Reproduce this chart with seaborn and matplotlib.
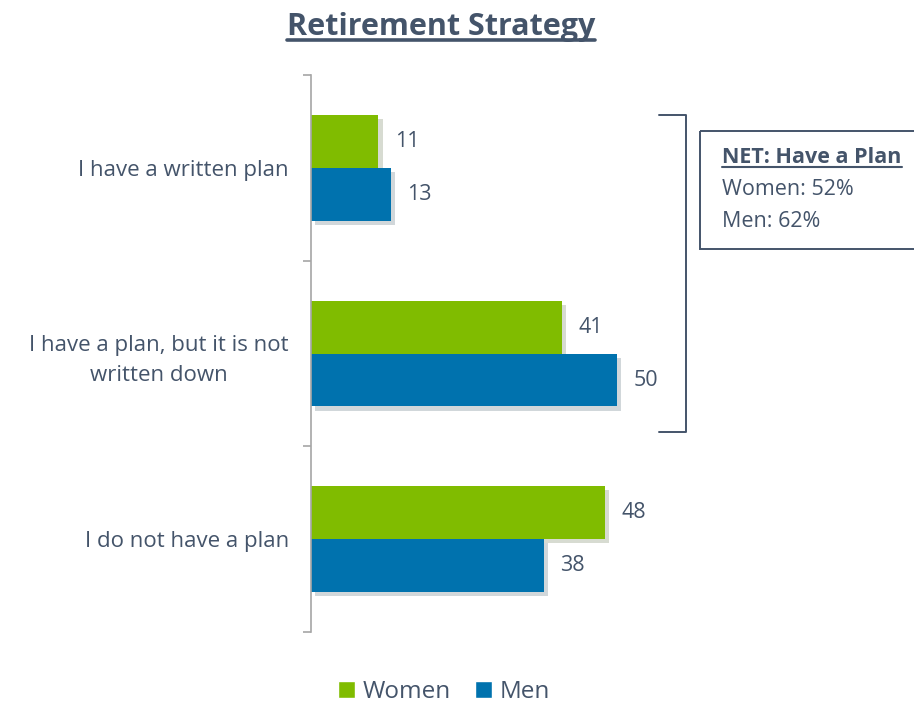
import pandas as pd
import matplotlib.pyplot as plt
import matplotlib.patheffects as pe
from matplotlib.patches import Patch, Rectangle
from matplotlib.lines import Line2D
import seaborn as sns

# chart data
categories = ['I have a written plan', 'I have a plan, but it is not\nwritten down', 'I do not have a plan']
women = [11, 41, 48]
men = [13, 50, 38]
series = ['Women', 'Men']
net_lines = ['Women: 52%', 'Men: 62%']

green = '#80BC00'
blue = '#0072AE'
txt = '#44546A'

df = pd.DataFrame({
    'category': categories * 2,
    'value': women + men,
    'group': ['Women'] * 3 + ['Men'] * 3,
})

sns.set_style('white')
plt.rcParams['font.family'] = ['Open Sans', 'DejaVu Sans']

fig = plt.figure(figsize=(9.14, 7.05), dpi=100)
ax = fig.add_axes([0.3403, 0.1035, 0.6597, 0.790])

sns.barplot(data=df, y='category', x='value', hue='group', order=categories,
            hue_order=series, palette=[green, blue], orient='h', width=0.57,
            saturation=1, linewidth=0, ax=ax, legend=False)

for c in ax.containers:
    for bar in c:
        bar.set_path_effects([pe.SimplePatchShadow(offset=(3, -3), alpha=0.18), pe.Normal()])
    ax.bar_label(c, fmt='%d', padding=12, fontsize=15.5, color=txt)

ax.set_xlim(0, 98.5)
ax.set_ylim(2.5, -0.5)
ax.set_xlabel('')
ax.set_ylabel('')
ax.set_xticks([])
for s in ['top', 'right', 'bottom']:
    ax.spines[s].set_visible(False)
ax.spines['left'].set_color('#A6A6A6')
ax.spines['left'].set_linewidth(1.2)

# tick marks between groups, labels at group centres
ax.set_yticks([-0.5, 0.5, 1.5, 2.5])
ax.set_yticklabels([])
ax.tick_params(axis='y', which='major', length=6, color='#A6A6A6', width=1.2, left=True)
ax.set_yticks(range(len(categories)), minor=True)
ax.set_yticklabels(categories, minor=True, fontsize=16, color=txt, ha='right',
                   multialignment='center', linespacing=1.55)
ax.tick_params(axis='y', which='minor', length=0, pad=16)

# title with underline
title = fig.text(0.4825, 0.962, 'Retirement Strategy', ha='center', va='center',
                 fontsize=22, fontweight='bold', color=txt)
fig.canvas.draw()
bb = title.get_window_extent().transformed(fig.transFigure.inverted())
fig.add_artist(Line2D([bb.x0, bb.x1], [bb.y0 + 0.002, bb.y0 + 0.002], color=txt, lw=2.6))

# bracket
bx, y0, y1 = 61.3, -0.285, 1.42
ax.plot([bx - 4.5, bx, bx, bx - 4.5], [y0, y0, y1, y1], color='#44546A', lw=1.4,
        clip_on=False, solid_joinstyle='round')

# NET box
ax.add_patch(Rectangle((63.6, -0.199), 40, 0.634, fill=False, edgecolor=txt,
                       lw=1.4, clip_on=False))
net = ax.text(67.2, -0.054, 'NET: Have a Plan', fontsize=15.5, fontweight='bold',
              color=txt, va='center', ha='left')
fig.canvas.draw()
nb = net.get_window_extent().transformed(fig.transFigure.inverted())
fig.add_artist(Line2D([nb.x0, nb.x1], [nb.y0 + 0.002, nb.y0 + 0.002], color=txt, lw=1.5))
for i, line in enumerate(net_lines):
    ax.text(67.2, 0.118 + i * 0.172, line, fontsize=15.5, color=txt, va='center', ha='left')

handles = [Patch(facecolor=green, label='Women'), Patch(facecolor=blue, label='Men')]
fig.legend(handles=handles, loc='center', bbox_to_anchor=(0.486, 0.018), ncol=2,
           frameon=False, fontsize=17.5, handlelength=0.7, handleheight=0.7,
           handletextpad=0.3, columnspacing=1.0, labelcolor=txt)

fig.savefig('out.png', dpi=100)
